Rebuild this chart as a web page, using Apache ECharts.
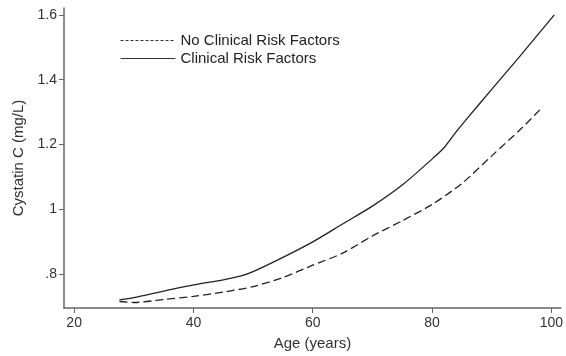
<!DOCTYPE html>
<html>
<head>
<meta charset="utf-8">
<script src="https://cdn.jsdelivr.net/npm/echarts@6/dist/echarts.min.js"></script>
<style>html,body{margin:0;padding:0;background:#fff}#c{width:566px;height:356px}</style>
</head>
<body>
<div id="c"></div>
<script>
const noRiskAge = [27.6, 30, 35, 40, 45, 50, 55, 60, 65, 70, 75, 80, 85, 90, 95, 98.5];
const noRiskVal = [0.716, 0.713, 0.722, 0.732, 0.745, 0.762, 0.79, 0.828, 0.865, 0.918, 0.965, 1.015, 1.08, 1.165, 1.25, 1.315];
const riskAge = [27.6, 30, 35, 40, 45, 48, 50, 55, 60, 65, 70, 75, 80, 82, 84, 86, 90, 95, 100.5];
const riskVal = [0.721, 0.728, 0.748, 0.767, 0.783, 0.795, 0.808, 0.852, 0.9, 0.955, 1.01, 1.075, 1.155, 1.19, 1.238, 1.283, 1.37, 1.478, 1.6];
const xTicks = [20, 40, 60, 80, 100];
const yTicks = [0.8, 1, 1.2, 1.4, 1.6];
const yTickLabels = ['.8', '1', '1.2', '1.4', '1.6'];
const seriesNames = ['No Clinical Risk Factors', 'Clinical Risk Factors'];

const chart = echarts.init(document.getElementById('c'), null, {renderer: 'canvas'});
const font = 'Liberation Sans, Arial, sans-serif';
const axisCol = '#666';
chart.setOption({
  animation: false,
  backgroundColor: '#fff',
  grid: {left: 64, right: 0, top: 8, bottom: 46, containLabel: false},
  legend: {
    orient: 'vertical', left: 115, top: 28, itemWidth: 55, itemHeight: 14, itemGap: 3,
    textStyle: {fontFamily: font, fontSize: 15, color: '#222'},
    data: [
      {name: seriesNames[0], itemStyle: {opacity: 0}, lineStyle: {type: [3, 2], width: 1, color: '#333'}},
      {name: seriesNames[1], itemStyle: {opacity: 0}, lineStyle: {type: 'solid', width: 1, color: '#333'}}
    ]
  },
  xAxis: {
    type: 'value', min: 18.3, max: 101.6,
    name: 'Age (years)', nameLocation: 'middle', nameGap: 28,
    nameTextStyle: {fontFamily: font, fontSize: 15, color: '#333'},
    axisLine: {show: true, lineStyle: {color: axisCol, width: 1.5}},
    axisTick: {show: true, length: 5, lineStyle: {color: axisCol, width: 1}, customValues: xTicks},
    axisLabel: {fontFamily: font, fontSize: 14, color: '#333', margin: 8, customValues: xTicks},
    splitLine: {show: false}
  },
  yAxis: {
    type: 'value', min: 0.696, max: 1.621,
    name: 'Cystatin C (mg/L)', nameLocation: 'middle', nameGap: 38, nameRotate: 90,
    nameTextStyle: {fontFamily: font, fontSize: 15, color: '#333'},
    axisLine: {show: true, lineStyle: {color: axisCol, width: 1.5}},
    axisTick: {show: true, length: 5, lineStyle: {color: axisCol, width: 1}, customValues: yTicks},
    axisLabel: {fontFamily: font, fontSize: 14, color: '#333', margin: 7, customValues: yTicks,
      formatter: function (v) { const i = yTicks.findIndex(t => Math.abs(t - v) < 1e-6); return i >= 0 ? yTickLabels[i] : ''; }},
    splitLine: {show: false}
  },
  series: [
    {name: seriesNames[0], type: 'line', smooth: 0.25, symbol: 'none',
      itemStyle: {color: '#222'},
      lineStyle: {type: [8, 4], width: 1.3, color: '#222'},
      data: noRiskAge.map((a, i) => [a, noRiskVal[i]])},
    {name: seriesNames[1], type: 'line', smooth: 0.25, symbol: 'none',
      itemStyle: {color: '#222'},
      lineStyle: {type: 'solid', width: 1.3, color: '#222'},
      data: riskAge.map((a, i) => [a, riskVal[i]])}
  ]
});
</script>
</body>
</html>
